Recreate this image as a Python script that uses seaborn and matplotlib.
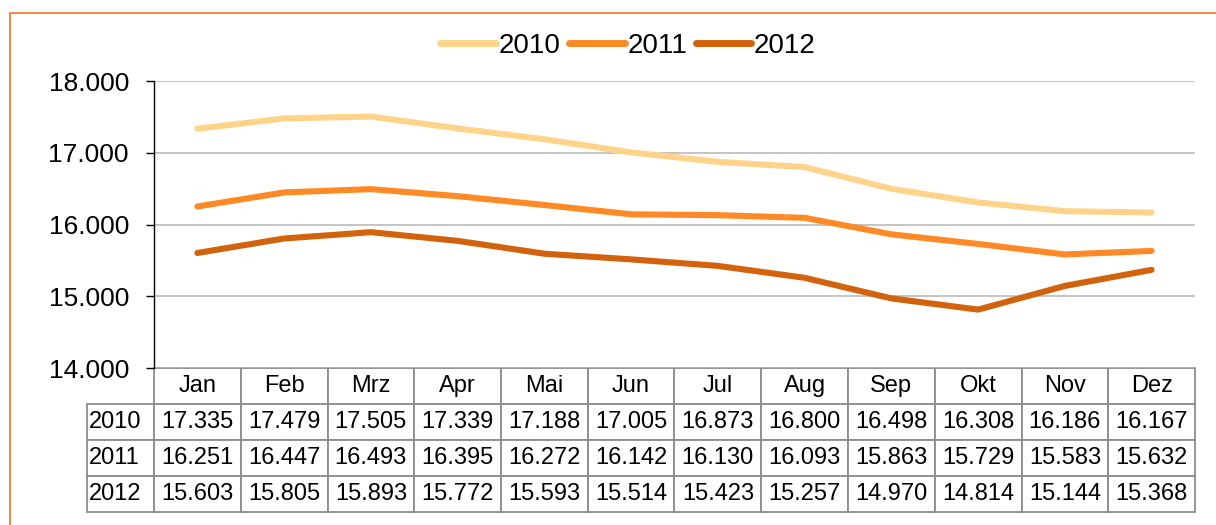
import numpy as np
import pandas as pd
import matplotlib
matplotlib.use('Agg')
import matplotlib.pyplot as plt
import seaborn as sns
from matplotlib.patches import Rectangle

months = ['Jan', 'Feb', 'Mrz', 'Apr', 'Mai', 'Jun', 'Jul', 'Aug', 'Sep', 'Okt', 'Nov', 'Dez']
years = ['2010', '2011', '2012']
v2010 = [17335, 17479, 17505, 17339, 17188, 17005, 16873, 16800, 16498, 16308, 16186, 16167]
v2011 = [16251, 16447, 16493, 16395, 16272, 16142, 16130, 16093, 15863, 15729, 15583, 15632]
v2012 = [15603, 15805, 15893, 15772, 15593, 15514, 15423, 15257, 14970, 14814, 15144, 15368]
colors = ['#FFD48A', '#FF8A25', '#D2620C']

sns.set_theme(style='white', rc={'text.color': 'black', 'ytick.color': 'black'})
plt.rcParams['font.family'] = ['Liberation Sans', 'DejaVu Sans']

# long form data for seaborn
df = pd.DataFrame({
    'month': list(range(12)) * 3,
    'value': v2010 + v2011 + v2012,
    'year': [y for y in years for _ in range(12)],
})

W, H = 1216, 525
fig = plt.figure(figsize=(W / 100, H / 100), dpi=100)
ax = fig.add_axes([154 / W, (H - 368) / H, (1195 - 154) / W, (368 - 81) / H])

sns.lineplot(data=df, x='month', y='value', hue='year', palette=colors,
             linewidth=4.4, ax=ax, legend=True)
for ln in ax.lines:
    ln.set_solid_capstyle('round')
    ln.set_solid_joinstyle('round')

ax.set_xlim(-0.5, 11.5)
ax.set_ylim(14000, 18000)
ax.set_yticks([14000, 15000, 16000, 17000, 18000])
ax.set_yticklabels(['14.000', '15.000', '16.000', '17.000', '18.000'], fontsize=19)
ax.set_xticks([])
ax.set_xlabel('')
ax.set_ylabel('')
ax.yaxis.grid(True, color='#B4B4B4', linewidth=1.1)
ax.set_axisbelow(True)
for s in ['top', 'right', 'bottom']:
    ax.spines[s].set_visible(False)
ax.spines['left'].set_color('black')
ax.spines['left'].set_linewidth(1.0)
ax.tick_params(axis='y', left=True, length=6, width=1, color='black',
               labelcolor='black', pad=12)

# legend on top
handles, labels = ax.get_legend_handles_labels()
ax.legend(handles, labels, loc='center', bbox_to_anchor=(628 / W, 1 - 46 / H),
          bbox_transform=fig.transFigure, ncol=3, frameon=False, fontsize=20,
          handlelength=2.0, handletextpad=0.1, columnspacing=0.3)
for h in ax.get_legend().get_lines():
    h.set_linewidth(5.0)
    h.set_solid_capstyle('round')

# data table below the plot
rows = [[y] + ['{:.3f}'.format(v / 1000) for v in vals]
        for y, vals in zip(years, [v2010, v2011, v2012])]
lab_w = (154 - 87) / (1195 - 154)
col_w = 1 / 12
tab_h = (512 - 368) / (368 - 81)
tbl = ax.table(cellText=rows, colLabels=[''] + months,
               colWidths=[lab_w] + [col_w] * 12,
               cellLoc='center', bbox=[-lab_w, -tab_h, 1 + lab_w, tab_h])
tbl.auto_set_font_size(False)
tbl.set_fontsize(17)
for (r, c), cell in tbl.get_celld().items():
    cell.set_edgecolor('#8C8C8C')
    cell.set_linewidth(1.3)
    cell.get_text().set_color('black')
    if r == 0 and c == 0:
        cell.visible_edges = ''
    if c == 0:
        cell.get_text().set_ha('left')
        cell.PAD = 0.03

# orange frame around the chart
fig.patches.append(Rectangle((10 / W, -0.05), 1.1, 1 - 13 / H + 0.05,
                             transform=fig.transFigure, fill=False,
                             edgecolor='#F7853F', linewidth=1.4))

fig.savefig('out.png', dpi=100)
